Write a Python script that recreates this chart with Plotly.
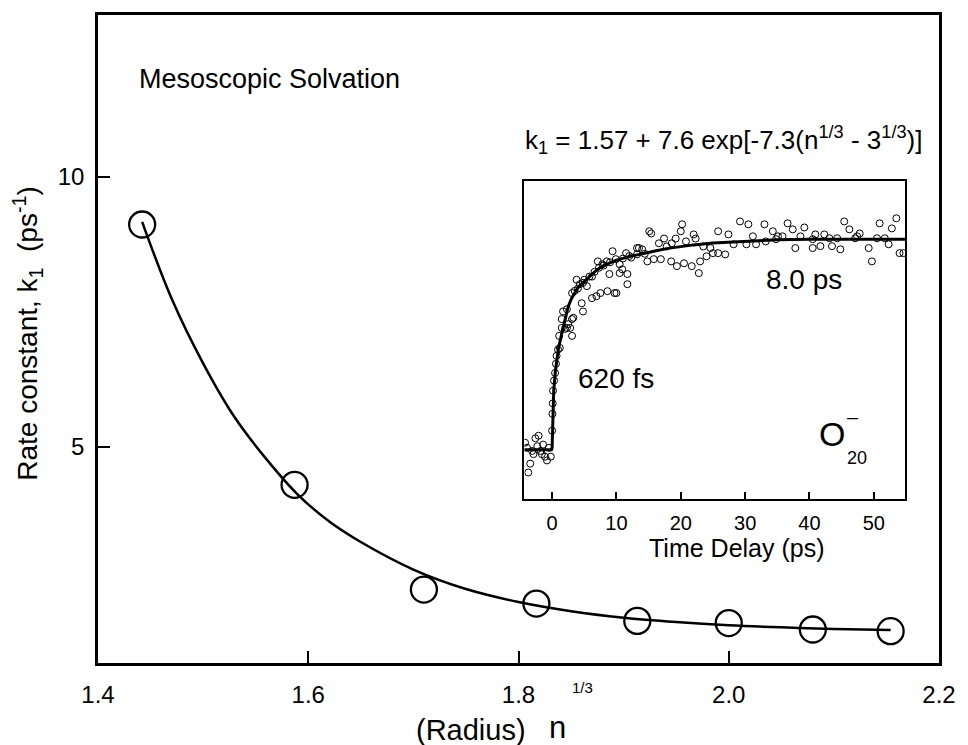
import plotly.graph_objects as go

# ---------------- data ----------------
radius_n13 = [1.442, 1.587, 1.710, 1.817, 1.913, 2.000, 2.080, 2.154]
rate_k1 = [9.12, 4.30, 2.36, 2.10, 1.78, 1.74, 1.62, 1.59]

fit_x = [1.442, 1.47, 1.50, 1.53, 1.56, 1.59, 1.62, 1.65, 1.70, 1.75,
         1.80, 1.85, 1.90, 1.95, 2.00, 2.05, 2.10, 2.154]
fit_y = [9.17, 7.75, 6.55, 5.55, 4.78, 4.12, 3.62, 3.24, 2.73, 2.37,
         2.13, 1.96, 1.84, 1.76, 1.70, 1.66, 1.63, 1.61]

main_xticks = [1.4, 1.6, 1.8, 2.0, 2.2]
main_yticks = [5, 10]

# inset: transient (time delay in ps, normalized signal)
inset_t = [-4.2, -3.9, -3.7, -3.4, -3.1, -2.9, -2.6, -2.3, -2.1, -1.8, -1.6, -1.4, -1.1, -0.8, -0.5, -0.2,
           0.0, 0.05, 0.1, 0.15, 0.3, 0.46, 0.6, 0.7, 0.92, 1.2, 1.1, 1.5, 1.5, 1.7, 2.0, 2.3, 2.3, 2.8, 2.5, 3.1, 3.1, 3.3,
           3.1, 3.8, 4.3, 4.8, 4.8, 4.6, 5.4, 6.2, 6.2, 7.1, 6.9, 7.5, 7.8, 8.5, 8.6, 8.9, 9.4, 9.7, 10.0, 10.5, 10.5,
           10.9, 11.5, 11.7, 11.7, 12.3, 13.2, 13.2, 13.5, 14.0, 14.8, 15.1, 15.4, 15.8,
           3.5, 4.0, 5.0, 5.8, 6.6, 7.3, 8.0, 9.0, 9.9, 11.0, 12.0, 14.4,
           16.6, 16.9, 17.4, 17.8, 18.5, 18.6, 19.2, 19.4, 20.0, 20.2, 20.5, 20.8, 21.7, 22.0, 22.3, 22.8, 23.0,
           23.5, 24.0, 24.6, 25.0, 25.8, 25.8, 26.9, 27.4, 28.2, 29.2, 30.2, 30.5, 31.2, 31.7, 33.0, 33.2,
           34.3, 34.8, 35.1, 35.8, 36.6, 37.4, 37.8, 38.6, 39.2, 40.5, 40.5, 40.9, 41.7, 42.3, 43.1, 43.5, 44.3,
           44.8, 45.4, 46.2, 47.1, 47.4, 47.8, 49.2, 49.7, 50.5, 50.9, 51.7, 52.3, 52.8, 53.5, 54.0, 54.6]
inset_signal = [0.176, 0.160, 0.082, 0.110, 0.150, 0.140, 0.190, 0.165, 0.198, 0.150, 0.140, 0.170, 0.132, 0.120, 0.160, 0.132,
                0.214, 0.267, 0.300, 0.340, 0.372, 0.396, 0.425, 0.450, 0.470, 0.475, 0.513, 0.538, 0.566, 0.590, 0.535, 0.597, 0.538, 0.538, 0.550, 0.513, 0.566, 0.570,
                0.648, 0.690, 0.676, 0.680, 0.590, 0.616, 0.670, 0.700, 0.632, 0.748, 0.638, 0.648, 0.739, 0.748, 0.654, 0.708, 0.780, 0.648, 0.648, 0.739, 0.711,
                0.723, 0.774, 0.708, 0.676, 0.760, 0.790, 0.770, 0.790, 0.786, 0.748, 0.843, 0.836, 0.755,
                0.655, 0.662, 0.690, 0.700, 0.715, 0.728, 0.735, 0.745, 0.755, 0.757, 0.765, 0.772,
                0.805, 0.755, 0.820, 0.795, 0.748, 0.805, 0.820, 0.733, 0.843, 0.865, 0.742, 0.811, 0.733, 0.833, 0.820, 0.711, 0.748,
                0.795, 0.764, 0.790, 0.774, 0.843, 0.774, 0.770, 0.833, 0.802, 0.874, 0.802, 0.865, 0.827, 0.802, 0.865, 0.811,
                0.843, 0.818, 0.827, 0.827, 0.868, 0.849, 0.790, 0.827, 0.855, 0.818, 0.790, 0.833, 0.796, 0.833, 0.821, 0.796, 0.821,
                0.786, 0.874, 0.849, 0.821, 0.827, 0.836, 0.790, 0.748, 0.821, 0.868, 0.821, 0.802, 0.852, 0.884, 0.774, 0.774]

inset_fit_t = [-4.3, -0.1, 0.0, 0.1, 0.25, 0.5, 0.75, 1.0, 1.5, 2.0, 2.5, 3.0, 4.0, 5.0, 6.0, 7.0, 8.0,
               10.0, 12.0, 14.0, 16.0, 18.0, 20.0, 22.0, 25.0, 30.0, 35.0, 40.0, 47.0, 54.9]
inset_fit_y = [0.154, 0.154, 0.16, 0.27, 0.34, 0.40, 0.44, 0.475, 0.52, 0.565, 0.605, 0.63, 0.665, 0.685, 0.705,
               0.722, 0.735, 0.752, 0.763, 0.773, 0.781, 0.789, 0.795, 0.800, 0.806, 0.812, 0.816, 0.818, 0.818, 0.818]
inset_xticks = [0, 10, 20, 30, 40, 50]

# ---------------- layout helpers ----------------
W, H = 968, 745
L, R, T, B = 98, 20, 13, 82
PW, PH = W - L - R, H - T - B
FONT = "Liberation Sans, Arial, sans-serif"


def px(x, y):
    return (x - L) / PW, (H - B - y) / PH


fig = go.Figure()

fig.add_trace(go.Scatter(x=fit_x, y=fit_y, mode="lines", line_shape="spline",
                         line=dict(color="black", width=2.5), xaxis="x", yaxis="y",
                         showlegend=False, hoverinfo="skip"))
fig.add_trace(go.Scatter(x=radius_n13, y=rate_k1, mode="markers",
                         marker=dict(symbol="circle-open", size=26, color="black",
                                     line=dict(width=2.3, color="black")),
                         xaxis="x", yaxis="y", showlegend=False))

fig.add_trace(go.Scatter(x=inset_t, y=inset_signal, mode="markers",
                         marker=dict(symbol="circle-open", size=7, color="black",
                                     line=dict(width=1, color="black")),
                         xaxis="x2", yaxis="y2", showlegend=False))
fig.add_trace(go.Scatter(x=inset_fit_t, y=inset_fit_y, mode="lines",
                         line=dict(color="black", width=3), xaxis="x2", yaxis="y2",
                         showlegend=False, hoverinfo="skip"))

ix0, iy0 = px(529, 498)
ix1, iy1 = px(914, 180)

axis_common = dict(showgrid=False, zeroline=False, showline=True, linecolor="black",
                   mirror=True, ticks="inside", tickcolor="black")

fig.update_layout(
    width=W, height=H,
    margin=dict(l=L, r=R, t=T, b=B),
    paper_bgcolor="white", plot_bgcolor="white",
    font=dict(family=FONT, color="black"),
    xaxis=dict(domain=[0, 1], range=[1.4, 2.2], tickvals=main_xticks,
               ticktext=[f"{v:.1f}" for v in main_xticks], linewidth=2.5,
               ticklen=12, tickwidth=2.2, tickfont=dict(size=24, family=FONT),
               ticklabelstandoff=8, **axis_common),
    yaxis=dict(domain=[0, 1], range=[1, 13], tickvals=main_yticks,
               linewidth=2.5, ticklen=12, tickwidth=2.2,
               tickfont=dict(size=24, family=FONT), ticklabelstandoff=6, **axis_common),
    xaxis2=dict(domain=[ix0, ix1], anchor="y2", range=[-4.3, 54.9], tickvals=inset_xticks,
                linewidth=1.6, ticklen=7, tickwidth=1.6,
                tickfont=dict(size=20, family=FONT), ticklabelstandoff=6, **axis_common),
    yaxis2=dict(domain=[iy0, iy1], anchor="x2", range=[0, 1], showticklabels=False,
                linewidth=1.6, ticklen=0, showgrid=False, zeroline=False, showline=True,
                linecolor="black", mirror=True),
)


def ann(text, x, y, size, xanchor="center", yanchor="middle", angle=0):
    ax, ay = px(x, y)
    fig.add_annotation(text=text, x=ax, y=ay, xref="paper", yref="paper",
                       xanchor=xanchor, yanchor=yanchor, showarrow=False,
                       textangle=angle, font=dict(size=size, family=FONT, color="black"))


ann("Mesoscopic Solvation", 137, 77, 27, xanchor="left")
ann("k<sub>1</sub> = 1.57 + 7.6 exp[-7.3(n<sup>1/3</sup> - 3<sup>1/3</sup>)]", 933, 138, 26, xanchor="right")
ann("(Radius)", 417, 730, 29, xanchor="left")
ann("n", 562, 728, 31)
ann("1/3", 588, 688, 15)
ann("Rate constant, k<sub>1</sub>  (ps<sup>-1</sup>)", 27, 333, 28, angle=-90)
ann("Time Delay (ps)", 744, 548, 25)
ann("620 fs", 622, 378, 28)
ann("8.0 ps", 812, 278, 28)
ann("O", 840, 433, 34)
ann("20", 865, 457, 18)
ann("\u2013", 861, 416, 20)

fig.write_html("out.html")
